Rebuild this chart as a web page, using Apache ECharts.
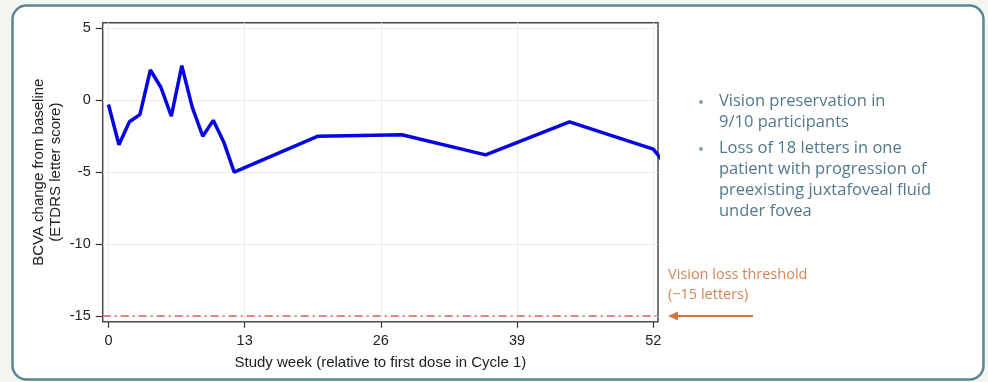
<!DOCTYPE html>
<html lang="en">
  <head>
    <meta charset="UTF-8" />
    <title>BCVA change from baseline</title>
    <style>
      html, body { margin: 0; padding: 0; background: #f6f6f1; }
      #container { width: 988px; height: 382px; }
    </style>
    <script src="https://cdn.jsdelivr.net/npm/echarts@6.0.0/dist/echarts.min.js"></script>
  </head>
  <body>
    <div id="container"></div>
    <script>
      // study weeks and mean BCVA change (letters)
      const weeks = [0, 1, 2, 3, 4, 5, 6, 7, 8, 9, 10, 11, 12, 20, 28, 36, 44, 52, 53]
      const bcva = [-0.3, -3.1, -1.5, -1.0, 2.1, 0.9, -1.1, 2.4, -0.5, -2.5, -1.4, -2.9, -5.0, -2.5, -2.4, -3.8, -1.5, -3.4, -4.3]
      const xTicks = [0, 13, 26, 39, 52]
      const yTicks = [-15, -10, -5, 0, 5]
      const threshold = -15
      const bullets = [
        ['Vision preservation in', '9/10 participants'],
        ['Loss of 18 letters in one', 'patient with progression of', 'preexisting juxtafoveal fluid', 'under fovea'],
      ]

      const chart = echarts.init(document.getElementById('container'))
      const font = 'Liberation Sans'
      const textFont = 'Open Sans'

      // bullet text blocks
      const bulletEls = []
      let y = 91
      bullets.forEach((lines) => {
        bulletEls.push({
          type: 'circle', shape: { cx: 701, cy: y + 11, r: 2 },
          style: { fill: '#86a6b5' }, z: 10,
        })
        bulletEls.push({
          type: 'text', left: 719, top: y,
          style: { text: lines.join('\n'), font: '16.5px ' + textFont, fill: '#52788b', lineHeight: 21 },
          z: 10,
        })
        y += lines.length * 21 + 5
      })

      const option = {
        animation: false,
        grid: {
          left: 102.7, top: 22.7, right: 330, bottom: 60.3,
          show: true, borderColor: '#4a4a4a', borderWidth: 1.5, backgroundColor: '#fff',
        },
        xAxis: {
          type: 'value', min: -0.55, max: 52.45,
          name: 'Study week (relative to first dose in Cycle 1)',
          nameLocation: 'middle', nameGap: 34, nameMoveOverlap: false,
          nameTextStyle: { fontFamily: font, fontSize: 15, color: '#222' },
          axisLine: { show: false, onZero: false },
          axisTick: { show: true, length: 6, lineStyle: { color: '#333', width: 1.2 }, customValues: xTicks },
          axisLabel: { fontFamily: font, fontSize: 14.5, color: '#222', margin: 12, customValues: xTicks },
          splitLine: { show: true, lineStyle: { color: '#ececec', width: 1 } },
        },
        yAxis: {
          type: 'value', min: -15.4, max: 5.39,
          name: 'BCVA change from baseline\n(ETDRS letter score)',
          nameLocation: 'middle', nameGap: 38, nameMoveOverlap: false,
          nameTextStyle: { fontFamily: font, fontSize: 15, color: '#222', lineHeight: 17 },
          axisLine: { show: false, onZero: false },
          axisTick: { show: true, length: 7, lineStyle: { color: '#333', width: 1.2 }, customValues: yTicks },
          axisLabel: { fontFamily: font, fontSize: 14.5, color: '#222', margin: 12, customValues: yTicks },
          splitLine: { show: true, lineStyle: { color: '#ececec', width: 1 } },
        },
        series: [
          {
            type: 'line',
            data: weeks.map((w, i) => [w, bcva[i]]),
            showSymbol: false,
            clip: true,
            lineStyle: { color: '#0606e2', width: 3.5 },
            z: 5,
            markLine: {
              silent: true, symbol: 'none', label: { show: false },
              lineStyle: { color: '#d9635e', width: 1.6, type: [8, 4, 2, 4] },
              data: [{ yAxis: threshold }],
            },
          },
        ],
        graphic: {
          elements: [
            {
              type: 'rect', shape: { x: 12.5, y: 5.5, width: 971, height: 374, r: 14 },
              style: { fill: '#fff', stroke: '#5b8595', lineWidth: 2.5 }, z: -10, silent: true,
            },
            {
              type: 'text', left: 668, top: 265,
              style: { text: 'Vision loss threshold\n(\u221215 letters)', font: '14.5px ' + textFont, fill: '#d5845a', lineHeight: 20 },
            },
            {
              type: 'line', shape: { x1: 676, y1: 316, x2: 753, y2: 316 },
              style: { stroke: '#d07446', lineWidth: 2 },
            },
            {
              type: 'polygon', shape: { points: [[668, 316], [678, 311.5], [678, 320.5]] },
              style: { fill: '#d07446' },
            },
          ].concat(bulletEls),
        },
      }
      chart.setOption(option)
    </script>
  </body>
</html>
